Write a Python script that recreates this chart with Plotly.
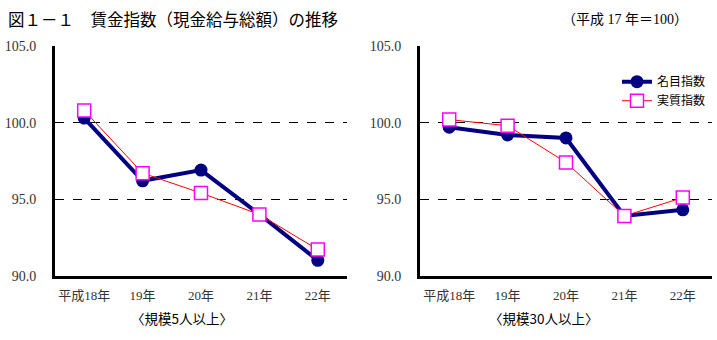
import plotly.graph_objects as go

categories = ["平成18年", "19年", "20年", "21年", "22年"]
nominal_5 = [100.3, 96.2, 96.9, 94.0, 91.0]
real_5 = [100.8, 96.7, 95.4, 94.0, 91.7]
nominal_30 = [99.7, 99.2, 99.0, 93.9, 94.3]
real_30 = [100.2, 99.8, 97.4, 93.9, 95.1]
y_ticks = [90, 95, 100, 105]
y_tick_labels = ["90.0", "95.0", "100.0", "105.0"]

W, H = 717, 340
NAVY = "#000080"
RED = "#FF0000"
MAG = "#FF00FF"
SERIF = "Liberation Serif, Noto Sans CJK JP"
GOTH = "Noto Sans CJK JP"

fig = go.Figure()

def add_pair(nom, real, xa, ya, show):
    fig.add_trace(go.Scatter(
        x=categories, y=nom, xaxis=xa, yaxis=ya, name="名目指数",
        mode="lines+markers", showlegend=show,
        line=dict(color=NAVY, width=4),
        marker=dict(symbol="circle", size=13, color=NAVY),
    ))
    fig.add_trace(go.Scatter(
        x=categories, y=real, xaxis=xa, yaxis=ya, name="実質指数",
        mode="lines+markers", showlegend=show,
        line=dict(color=RED, width=1),
        marker=dict(symbol="square", size=13, color="white",
                    line=dict(color=MAG, width=1.5)),
    ))

add_pair(nominal_5, real_5, "x", "y", True)
add_pair(nominal_30, real_30, "x2", "y2", False)

ydom = [(H - 281) / H, (H - 41) / H]

xcommon = dict(
    type="category", range=[-0.5, 4.5], showgrid=False, zeroline=False,
    showline=True, linecolor="black", linewidth=3, ticks="",
    tickfont=dict(family=SERIF, size=13, color="#333333"),
    ticklabelstandoff=6,
)
ycommon = dict(
    range=[90, 105], tickvals=y_ticks, ticktext=y_tick_labels,
    showgrid=True, gridcolor="black", gridwidth=1, griddash="dash",
    zeroline=False, showline=True, linecolor="black", linewidth=3, ticks="",
    tickfont=dict(family=SERIF, size=14, color="#333333"),
    ticklabelstandoff=13,
)

fig.update_layout(
    width=W, height=H,
    margin=dict(l=0, r=0, t=0, b=0),
    paper_bgcolor="white", plot_bgcolor="white",
    xaxis=dict(domain=[55 / W, 347 / W], anchor="y", **xcommon),
    yaxis=dict(domain=ydom, anchor="x", **ycommon),
    xaxis2=dict(domain=[420 / W, 712 / W], anchor="y2", **xcommon),
    yaxis2=dict(domain=ydom, anchor="x2", **ycommon),
    legend=dict(x=617 / W, y=(H - 63) / H, xanchor="left", yanchor="top",
                bgcolor="rgba(0,0,0,0)",
                font=dict(family=GOTH, size=12, color="black"),
                tracegroupgap=0),
    showlegend=True,
    annotations=[
        dict(text="図１－１　賃金指数（現金給与総額）の推移", x=6 / W, y=(H - 13) / H,
             xref="paper", yref="paper", xanchor="left", yanchor="middle",
             showarrow=False, font=dict(family=GOTH, size=16.5, color="black")),
        dict(text="（平成 17 年＝100）", x=690 / W, y=(H - 13) / H,
             xref="paper", yref="paper", xanchor="right", yanchor="middle",
             showarrow=False, font=dict(family=SERIF, size=14, color="black")),
        dict(text="〈規模5人以上〉", x=182 / W, y=(H - 325) / H,
             xref="paper", yref="paper", xanchor="center", yanchor="middle",
             showarrow=False, font=dict(family=GOTH, size=13.5, color="black")),
        dict(text="〈規模30人以上〉", x=544 / W, y=(H - 325) / H,
             xref="paper", yref="paper", xanchor="center", yanchor="middle",
             showarrow=False, font=dict(family=GOTH, size=13.5, color="black")),
    ],
)

fig.write_html("out.html")
